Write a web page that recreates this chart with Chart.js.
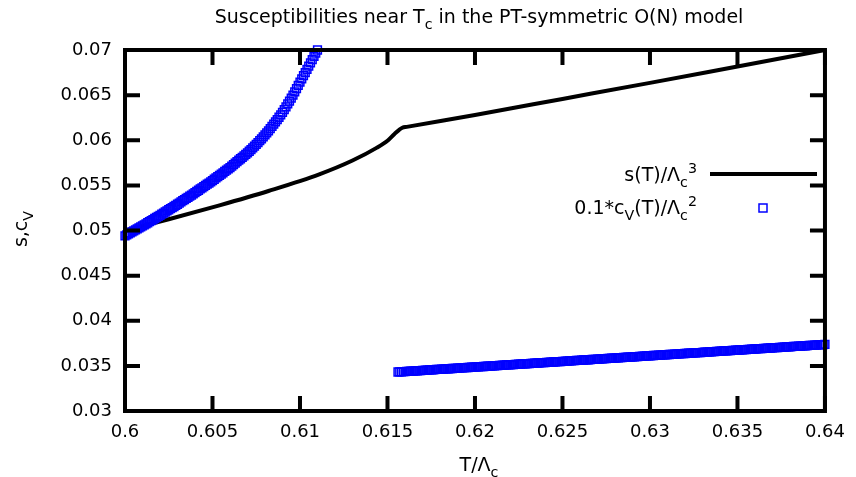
<!DOCTYPE html>
<html>
<head>
<meta charset="utf-8">
<script src="https://cdn.jsdelivr.net/npm/chart.js@4.4.0/dist/chart.umd.min.js"></script>
<style>
  html, body { margin: 0; padding: 0; background: #fff; }
</style>
</head>
<body>
<canvas id="chart" width="856" height="477"></canvas>
<script>
// axis ticks
const xTickVals = [0.6, 0.605, 0.61, 0.615, 0.62, 0.625, 0.63, 0.635, 0.64];
const xTickLabels = ['0.6', '0.605', '0.61', '0.615', '0.62', '0.625', '0.63', '0.635', '0.64'];
const yTickVals = [0.03, 0.035, 0.04, 0.045, 0.05, 0.055, 0.06, 0.065, 0.07];
const yTickLabels = ['0.03', '0.035', '0.04', '0.045', '0.05', '0.055', '0.06', '0.065', '0.07'];

// s(T)/Lambda_c^3 (black line)
const sX = [0.6000, 0.6025, 0.6054, 0.6082, 0.6111, 0.6130, 0.6144, 0.6150, 0.6154, 0.61585,
            0.6161, 0.6200, 0.6250, 0.6300, 0.6350, 0.6400];
const sY = [0.0500, 0.05125, 0.05279, 0.05438, 0.05622, 0.05775, 0.05918, 0.05995, 0.06070, 0.06139,
            0.06148, 0.06280, 0.06458, 0.06636, 0.06818, 0.07000];

// 0.1*c_V(T)/Lambda_c^2 below T_c (blue squares)
const cvLowX = [0.6000, 0.6001, 0.6002, 0.6003, 0.6004, 0.6005, 0.6006, 0.6007, 0.6008, 0.6009,
                0.6010, 0.6011, 0.6012, 0.6013, 0.6014, 0.6015, 0.6016, 0.6017, 0.6018, 0.6019,
                0.6020, 0.6021, 0.6022, 0.6023, 0.6024, 0.6025, 0.6026, 0.6027, 0.6028, 0.6029,
                0.6030, 0.6031, 0.6032, 0.6033, 0.6034, 0.6035, 0.6036, 0.6037, 0.6038, 0.6039,
                0.6040, 0.6041, 0.6042, 0.6043, 0.6044, 0.6045, 0.6046, 0.6047, 0.6048, 0.6049,
                0.6050, 0.6051, 0.6052, 0.6053, 0.6054, 0.6055, 0.6056, 0.6057, 0.6058, 0.6059,
                0.6060, 0.6061, 0.6062, 0.6063, 0.6064, 0.6065, 0.6066, 0.6067, 0.6068, 0.6069,
                0.6070, 0.6071, 0.6072, 0.6073, 0.6074, 0.6075, 0.6076, 0.6077, 0.6078, 0.6079,
                0.6080, 0.6081, 0.6082, 0.6083, 0.6084, 0.6085, 0.6086, 0.6087, 0.6088, 0.6089,
                0.6090, 0.6091, 0.6092, 0.6093, 0.6094, 0.6095, 0.6096, 0.6097, 0.6098, 0.6099,
                0.6100, 0.6101, 0.6102, 0.6103, 0.6104, 0.6105, 0.6106, 0.6107, 0.6108, 0.6109,
                0.6110];
const cvLowY = [0.04940, 0.04951, 0.04962, 0.04973, 0.04984, 0.04996, 0.05007, 0.05018, 0.05029, 0.05040,
                0.05051, 0.05063, 0.05074, 0.05086, 0.05098, 0.05110, 0.05121, 0.05133, 0.05145, 0.05157,
                0.05168, 0.05181, 0.05193, 0.05205, 0.05217, 0.05230, 0.05242, 0.05254, 0.05266, 0.05279,
                0.05291, 0.05304, 0.05317, 0.05330, 0.05342, 0.05355, 0.05368, 0.05381, 0.05393, 0.05406,
                0.05419, 0.05433, 0.05446, 0.05460, 0.05473, 0.05486, 0.05499, 0.05513, 0.05526, 0.05540,
                0.05553, 0.05568, 0.05582, 0.05597, 0.05611, 0.05625, 0.05639, 0.05654, 0.05668, 0.05683,
                0.05697, 0.05714, 0.05730, 0.05746, 0.05762, 0.05779, 0.05795, 0.05811, 0.05827, 0.05844,
                0.05860, 0.05878, 0.05896, 0.05915, 0.05934, 0.05954, 0.05974, 0.05995, 0.06016, 0.06038,
                0.06060, 0.06082, 0.06105, 0.06129, 0.06153, 0.06178, 0.06203, 0.06229, 0.06255, 0.06282,
                0.06310, 0.06340, 0.06370, 0.06402, 0.06434, 0.06467, 0.06501, 0.06536, 0.06571, 0.06607,
                0.06644, 0.06679, 0.06715, 0.06750, 0.06786, 0.06822, 0.06858, 0.06893, 0.06929, 0.06965,
                0.07000];

// 0.1*c_V(T)/Lambda_c^2 above T_c (blue squares)
const cvHighX = [0.6156, 0.6157, 0.6158, 0.6159, 0.6160, 0.6161, 0.6162, 0.6163, 0.6164, 0.6165,
                 0.6166, 0.6167, 0.6168, 0.6169, 0.6170, 0.6171, 0.6172, 0.6173, 0.6174, 0.6175,
                 0.6176, 0.6177, 0.6178, 0.6179, 0.6180, 0.6181, 0.6182, 0.6183, 0.6184, 0.6185,
                 0.6186, 0.6187, 0.6188, 0.6189, 0.6190, 0.6191, 0.6192, 0.6193, 0.6194, 0.6195,
                 0.6196, 0.6197, 0.6198, 0.6199, 0.6200, 0.6201, 0.6202, 0.6203, 0.6204, 0.6205,
                 0.6206, 0.6207, 0.6208, 0.6209, 0.6210, 0.6211, 0.6212, 0.6213, 0.6214, 0.6215,
                 0.6216, 0.6217, 0.6218, 0.6219, 0.6220, 0.6221, 0.6222, 0.6223, 0.6224, 0.6225,
                 0.6226, 0.6227, 0.6228, 0.6229, 0.6230, 0.6231, 0.6232, 0.6233, 0.6234, 0.6235,
                 0.6236, 0.6237, 0.6238, 0.6239, 0.6240, 0.6241, 0.6242, 0.6243, 0.6244, 0.6245,
                 0.6246, 0.6247, 0.6248, 0.6249, 0.6250, 0.6251, 0.6252, 0.6253, 0.6254, 0.6255,
                 0.6256, 0.6257, 0.6258, 0.6259, 0.6260, 0.6261, 0.6262, 0.6263, 0.6264, 0.6265,
                 0.6266, 0.6267, 0.6268, 0.6269, 0.6270, 0.6271, 0.6272, 0.6273, 0.6274, 0.6275,
                 0.6276, 0.6277, 0.6278, 0.6279, 0.6280, 0.6281, 0.6282, 0.6283, 0.6284, 0.6285,
                 0.6286, 0.6287, 0.6288, 0.6289, 0.6290, 0.6291, 0.6292, 0.6293, 0.6294, 0.6295,
                 0.6296, 0.6297, 0.6298, 0.6299, 0.6300, 0.6301, 0.6302, 0.6303, 0.6304, 0.6305,
                 0.6306, 0.6307, 0.6308, 0.6309, 0.6310, 0.6311, 0.6312, 0.6313, 0.6314, 0.6315,
                 0.6316, 0.6317, 0.6318, 0.6319, 0.6320, 0.6321, 0.6322, 0.6323, 0.6324, 0.6325,
                 0.6326, 0.6327, 0.6328, 0.6329, 0.6330, 0.6331, 0.6332, 0.6333, 0.6334, 0.6335,
                 0.6336, 0.6337, 0.6338, 0.6339, 0.6340, 0.6341, 0.6342, 0.6343, 0.6344, 0.6345,
                 0.6346, 0.6347, 0.6348, 0.6349, 0.6350, 0.6351, 0.6352, 0.6353, 0.6354, 0.6355,
                 0.6356, 0.6357, 0.6358, 0.6359, 0.6360, 0.6361, 0.6362, 0.6363, 0.6364, 0.6365,
                 0.6366, 0.6367, 0.6368, 0.6369, 0.6370, 0.6371, 0.6372, 0.6373, 0.6374, 0.6375,
                 0.6376, 0.6377, 0.6378, 0.6379, 0.6380, 0.6381, 0.6382, 0.6383, 0.6384, 0.6385,
                 0.6386, 0.6387, 0.6388, 0.6389, 0.6390, 0.6391, 0.6392, 0.6393, 0.6394, 0.6395,
                 0.6396, 0.6397, 0.6398, 0.6399, 0.6400];
const cvHighY = [0.03432, 0.03433, 0.03435, 0.03436, 0.03437, 0.03438, 0.03440, 0.03441,
                 0.03442, 0.03443, 0.03445, 0.03446, 0.03447, 0.03448, 0.03450, 0.03451,
                 0.03452, 0.03453, 0.03455, 0.03456, 0.03457, 0.03458, 0.03460, 0.03461,
                 0.03462, 0.03463, 0.03465, 0.03466, 0.03467, 0.03468, 0.03470, 0.03471,
                 0.03472, 0.03473, 0.03475, 0.03476, 0.03477, 0.03478, 0.03480, 0.03481,
                 0.03482, 0.03483, 0.03485, 0.03486, 0.03487, 0.03488, 0.03490, 0.03491,
                 0.03492, 0.03493, 0.03495, 0.03496, 0.03497, 0.03498, 0.03500, 0.03501,
                 0.03502, 0.03503, 0.03505, 0.03506, 0.03507, 0.03508, 0.03510, 0.03511,
                 0.03512, 0.03513, 0.03515, 0.03516, 0.03517, 0.03518, 0.03520, 0.03521,
                 0.03522, 0.03523, 0.03525, 0.03526, 0.03527, 0.03528, 0.03530, 0.03531,
                 0.03532, 0.03533, 0.03535, 0.03536, 0.03537, 0.03538, 0.03540, 0.03541,
                 0.03542, 0.03543, 0.03545, 0.03546, 0.03547, 0.03548, 0.03550, 0.03551,
                 0.03552, 0.03553, 0.03555, 0.03556, 0.03557, 0.03558, 0.03560, 0.03561,
                 0.03562, 0.03563, 0.03565, 0.03566, 0.03567, 0.03568, 0.03570, 0.03571,
                 0.03572, 0.03573, 0.03575, 0.03576, 0.03577, 0.03578, 0.03580, 0.03581,
                 0.03582, 0.03583, 0.03585, 0.03586, 0.03587, 0.03588, 0.03590, 0.03591,
                 0.03592, 0.03593, 0.03595, 0.03596, 0.03597, 0.03598, 0.03600, 0.03601,
                 0.03602, 0.03603, 0.03605, 0.03606, 0.03607, 0.03608, 0.03610, 0.03611,
                 0.03612, 0.03613, 0.03615, 0.03616, 0.03617, 0.03618, 0.03620, 0.03621,
                 0.03622, 0.03623, 0.03625, 0.03626, 0.03627, 0.03628, 0.03630, 0.03631,
                 0.03632, 0.03633, 0.03635, 0.03636, 0.03637, 0.03638, 0.03640, 0.03641,
                 0.03642, 0.03643, 0.03645, 0.03646, 0.03647, 0.03648, 0.03650, 0.03651,
                 0.03652, 0.03653, 0.03655, 0.03656, 0.03657, 0.03658, 0.03660, 0.03661,
                 0.03662, 0.03663, 0.03665, 0.03666, 0.03667, 0.03668, 0.03670, 0.03671,
                 0.03672, 0.03673, 0.03675, 0.03676, 0.03677, 0.03678, 0.03680, 0.03681,
                 0.03682, 0.03683, 0.03685, 0.03686, 0.03687, 0.03688, 0.03690, 0.03691,
                 0.03692, 0.03693, 0.03695, 0.03696, 0.03697, 0.03698, 0.03700, 0.03701,
                 0.03702, 0.03703, 0.03705, 0.03706, 0.03707, 0.03708, 0.03710, 0.03711,
                 0.03712, 0.03713, 0.03715, 0.03716, 0.03717, 0.03718, 0.03720, 0.03721,
                 0.03722, 0.03723, 0.03725, 0.03726, 0.03727, 0.03728, 0.03730, 0.03731,
                 0.03732, 0.03733, 0.03735, 0.03736, 0.03737];

const FONT = '"DejaVu Sans", sans-serif';
const TICK_SIZE = 18;
const TEXT_SIZE = 19;
const BLUE = '#0000ff';

// draws text made of pieces, some of them sub/superscript
function richText(ctx, parts, x, y, size, align) {
    let total = 0;
    const segs = parts.map(p => {
        const s = (p.sub || p.sup) ? size * 0.75 : size;
        ctx.font = s + 'px ' + FONT;
        const w = ctx.measureText(p.t).width;
        total += w;
        return { p, s, w };
    });
    let cx = x;
    if (align === 'right') cx = x - total;
    if (align === 'center') cx = x - total / 2;
    segs.forEach(({ p, s, w }) => {
        ctx.font = s + 'px ' + FONT;
        let dy = 0;
        if (p.sub) dy = size * 0.3;
        if (p.sup) dy = -size * 0.42;
        ctx.fillText(p.t, cx, y + dy);
        cx += w;
    });
}

const decorations = {
    id: 'decorations',
    afterDatasetsDraw(chart) {
        const ctx = chart.ctx;
        const a = chart.chartArea;
        const xs = chart.scales.x;
        const ys = chart.scales.y;
        const tl = 15;

        ctx.save();
        ctx.strokeStyle = '#000';
        ctx.lineWidth = 4;
        ctx.beginPath();
        xTickVals.forEach(v => {
            const px = xs.getPixelForValue(v);
            ctx.moveTo(px, a.bottom); ctx.lineTo(px, a.bottom - tl);
            ctx.moveTo(px, a.top); ctx.lineTo(px, a.top + tl);
        });
        yTickVals.forEach(v => {
            const py = ys.getPixelForValue(v);
            ctx.moveTo(a.left, py); ctx.lineTo(a.left + tl, py);
            ctx.moveTo(a.right, py); ctx.lineTo(a.right - tl, py);
        });
        ctx.stroke();
        ctx.lineJoin = 'miter';
        ctx.strokeRect(a.left, a.top, a.right - a.left, a.bottom - a.top);

        // legend
        ctx.fillStyle = '#000';
        ctx.textBaseline = 'alphabetic';
        richText(ctx, [{ t: 's(T)/Λ' }, { t: 'c', sub: true }, { t: '3', sup: true }], 697, 181, TEXT_SIZE, 'right');
        ctx.beginPath();
        ctx.moveTo(710, 174); ctx.lineTo(817, 174);
        ctx.stroke();
        richText(ctx, [{ t: '0.1*c' }, { t: 'V', sub: true }, { t: '(T)/Λ' }, { t: 'c', sub: true }, { t: '2', sup: true }], 697, 214, TEXT_SIZE, 'right');
        ctx.strokeStyle = BLUE;
        ctx.lineWidth = 1.5;
        ctx.strokeRect(763 - 4, 208 - 4, 8, 8);

        // title and axis titles
        richText(ctx, [{ t: 'Susceptibilities near T' }, { t: 'c', sub: true }, { t: ' in the PT-symmetric O(N) model' }], 479, 23, TEXT_SIZE, 'center');
        richText(ctx, [{ t: 'T/Λ' }, { t: 'c', sub: true }], 479, 471, TEXT_SIZE, 'center');
        ctx.translate(27, 229);
        ctx.rotate(-Math.PI / 2);
        richText(ctx, [{ t: 's,c' }, { t: 'V', sub: true }], 0, 0, TEXT_SIZE, 'center');
        ctx.restore();
    }
};

const pts = (xs, ys) => xs.map((x, i) => ({ x, y: ys[i] }));

const squares = {
    pointStyle: 'rect',
    pointRadius: 5.5,
    pointBorderWidth: 1.5,
    borderColor: BLUE,
    backgroundColor: 'rgba(0,0,0,0)',
    clip: false
};

new Chart(document.getElementById('chart'), {
    type: 'scatter',
    data: {
        datasets: [
            Object.assign({ label: 'cv below Tc', data: pts(cvLowX, cvLowY) }, squares),
            Object.assign({ label: 'cv above Tc', data: pts(cvHighX, cvHighY) }, squares),
            {
                label: 's',
                data: pts(sX, sY),
                showLine: true,
                cubicInterpolationMode: 'monotone',
                borderColor: '#000',
                borderWidth: 4,
                pointRadius: 0,
                borderJoinStyle: 'round',
                clip: false
            }
        ]
    },
    options: {
        responsive: false,
        animation: false,
        events: [],
        layout: { padding: { top: 50, right: 24, left: 0, bottom: 0 } },
        plugins: { legend: { display: false }, tooltip: { enabled: false } },
        scales: {
            x: {
                type: 'linear',
                min: 0.6,
                max: 0.64,
                afterBuildTicks: s => { s.ticks = xTickVals.map(v => ({ value: v })); },
                afterFit: s => { s.height = 66; },
                grid: { display: false, drawTicks: false },
                border: { display: false },
                ticks: {
                    autoSkip: false,
                    maxRotation: 0,
                    padding: 11,
                    color: '#000',
                    font: { family: 'DejaVu Sans', size: TICK_SIZE },
                    callback: (v, i) => xTickLabels[i]
                }
            },
            y: {
                type: 'linear',
                min: 0.03,
                max: 0.07,
                afterBuildTicks: s => { s.ticks = yTickVals.map(v => ({ value: v })); },
                afterFit: s => { s.width = 125; },
                grid: { display: false, drawTicks: false },
                border: { display: false },
                ticks: {
                    autoSkip: false,
                    padding: 13,
                    color: '#000',
                    font: { family: 'DejaVu Sans', size: TICK_SIZE },
                    callback: (v, i) => yTickLabels[i]
                }
            }
        }
    },
    plugins: [decorations]
});
</script>
</body>
</html>
